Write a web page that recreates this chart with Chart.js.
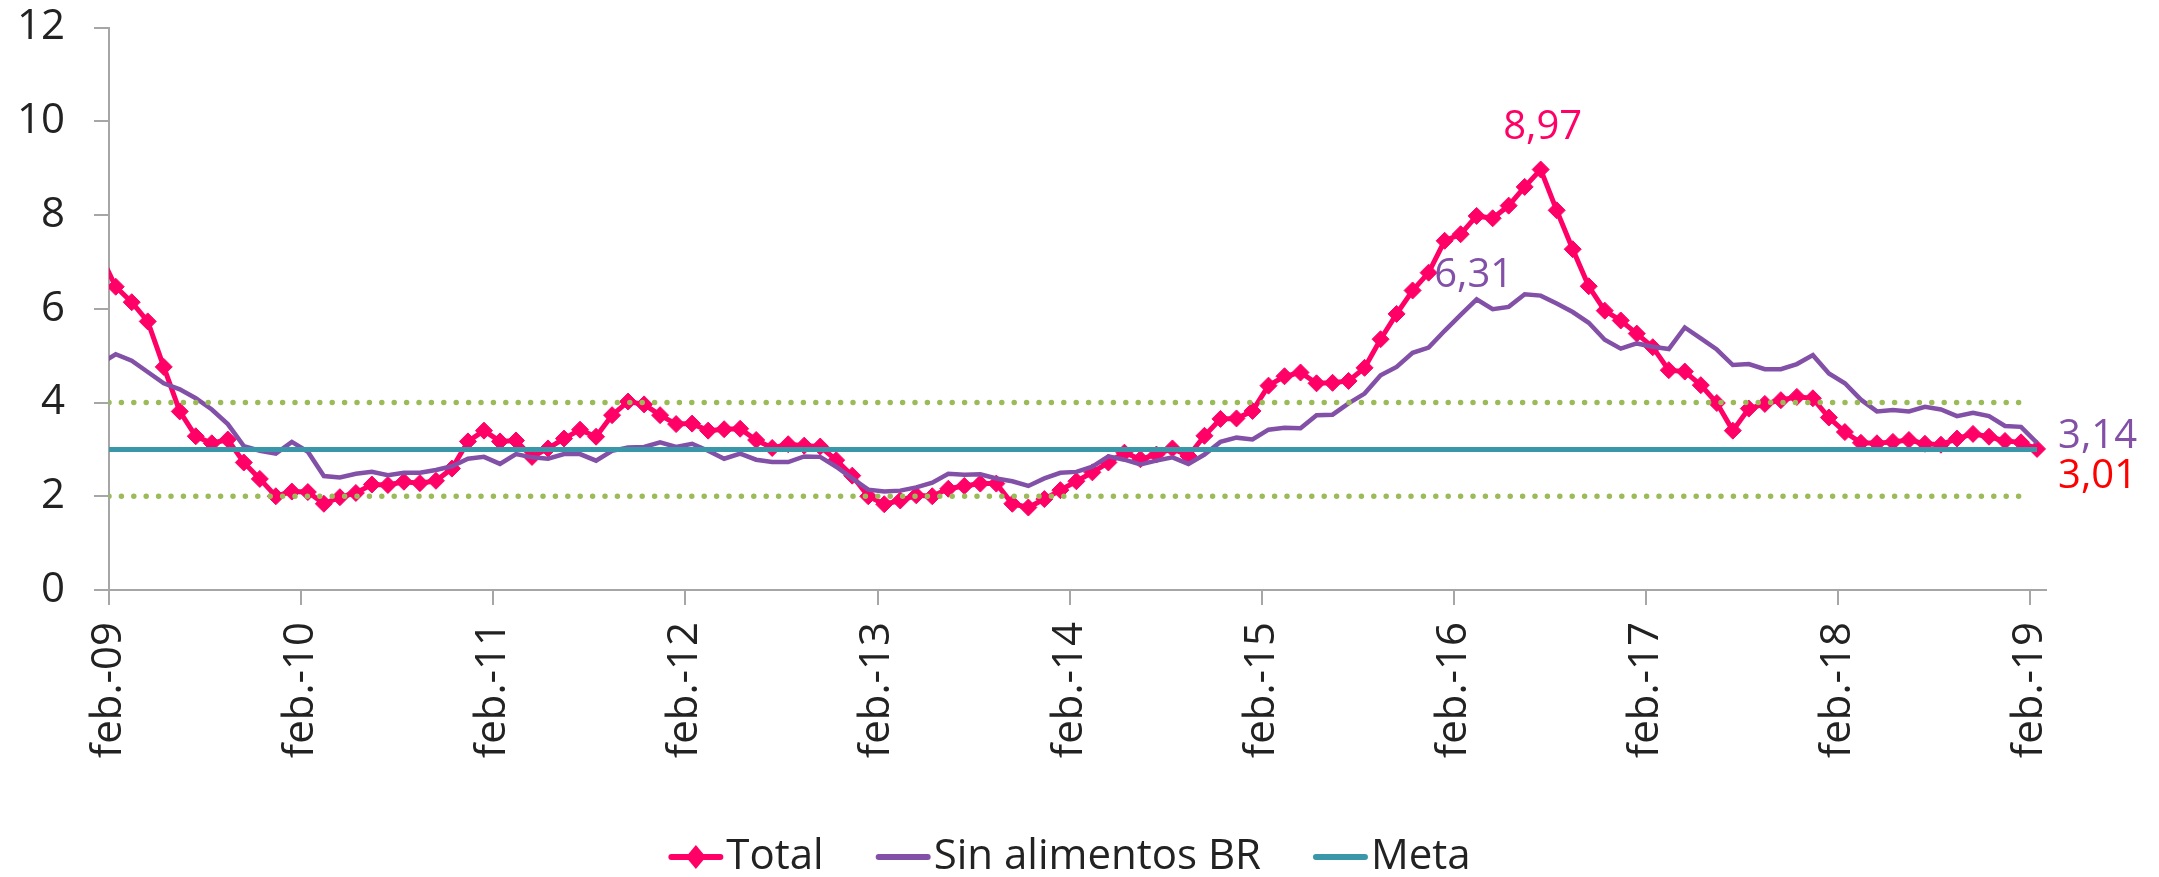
<!DOCTYPE html>
<html>
<head>
<meta charset="utf-8">
<script src="https://cdn.jsdelivr.net/npm/chart.js@4.4.1/dist/chart.umd.min.js"></script>
<style>
html,body{margin:0;padding:0;background:#fff;}
#c{display:block;}
</style>
</head>
<body>
<canvas id="c" width="2159" height="877"></canvas>
<script>
// ---- data (monthly, ene-09 .. feb-19) ----
const tickLabels = ["feb.-09","feb.-10","feb.-11","feb.-12","feb.-13","feb.-14","feb.-15","feb.-16","feb.-17","feb.-18","feb.-19"];
const seriesNames = ["Total", "Sin alimentos BR", "Meta"];

const total = [7.18,
  6.47, 6.14, 5.73, 4.76, 3.81, 3.28, 3.13, 3.21, 2.72, 2.37, 2.00,
  2.10, 2.09, 1.84, 1.98, 2.07, 2.25, 2.24, 2.31, 2.28, 2.33, 2.59, 3.17,
  3.40, 3.17, 3.19, 2.84, 3.02, 3.23, 3.42, 3.27, 3.73, 4.02, 3.96, 3.73,
  3.54, 3.55, 3.40, 3.43, 3.44, 3.20, 3.03, 3.11, 3.08, 3.06, 2.77, 2.44,
  2.00, 1.83, 1.91, 2.02, 2.00, 2.16, 2.22, 2.27, 2.27, 1.84, 1.76, 1.94,
  2.13, 2.32, 2.51, 2.72, 2.93, 2.79, 2.89, 3.02, 2.86, 3.29, 3.65, 3.66,
  3.82, 4.36, 4.56, 4.64, 4.41, 4.42, 4.46, 4.74, 5.35, 5.89, 6.39, 6.77,
  7.45, 7.59, 7.98, 7.93, 8.20, 8.60, 8.97, 8.10, 7.27, 6.48, 5.96, 5.75,
  5.47, 5.18, 4.69, 4.66, 4.37, 3.99, 3.40, 3.87, 3.97, 4.05, 4.12, 4.09,
  3.68, 3.37, 3.14, 3.13, 3.16, 3.20, 3.12, 3.10, 3.23, 3.33, 3.27, 3.18,
  3.15, 3.01];

const sinAlimentos = [4.82,
  5.03, 4.89, 4.65, 4.41, 4.28, 4.09, 3.85, 3.54, 3.07, 2.97, 2.91,
  3.16, 2.95, 2.43, 2.40, 2.48, 2.52, 2.45, 2.50, 2.50, 2.56, 2.64, 2.80,
  2.84, 2.69, 2.90, 2.83, 2.80, 2.90, 2.90, 2.76, 2.97, 3.04, 3.05, 3.15,
  3.05, 3.12, 2.97, 2.80, 2.91, 2.78, 2.73, 2.73, 2.85, 2.84, 2.63, 2.38,
  2.14, 2.10, 2.12, 2.19, 2.29, 2.48, 2.46, 2.47, 2.38, 2.32, 2.22, 2.38,
  2.50, 2.52, 2.63, 2.85, 2.78, 2.68, 2.76, 2.83, 2.69, 2.89, 3.16, 3.25,
  3.21, 3.42, 3.46, 3.45, 3.73, 3.74, 3.98, 4.19, 4.58, 4.76, 5.06, 5.17,
  5.53, 5.87, 6.20, 5.99, 6.04, 6.31, 6.28, 6.11, 5.93, 5.70, 5.34, 5.15,
  5.26, 5.19, 5.14, 5.60, 5.37, 5.13, 4.80, 4.82, 4.71, 4.71, 4.82, 5.01,
  4.62, 4.41, 4.06, 3.81, 3.84, 3.81, 3.91, 3.85, 3.71, 3.78, 3.71, 3.50,
  3.48, 3.14];

const meta = [3,
  3,3,3,3,3,3,3,3,3,3,3,
  3,3,3,3,3,3,3,3,3,3,3,3,
  3,3,3,3,3,3,3,3,3,3,3,3,
  3,3,3,3,3,3,3,3,3,3,3,3,
  3,3,3,3,3,3,3,3,3,3,3,3,
  3,3,3,3,3,3,3,3,3,3,3,3,
  3,3,3,3,3,3,3,3,3,3,3,3,
  3,3,3,3,3,3,3,3,3,3,3,3,
  3,3,3,3,3,3,3,3,3,3,3,3,
  3,3,3,3,3,3,3,3,3,3,3,3,
  3,3];

const rangoSuperior = [4, 4];
const rangoInferior = [2, 2];

// ---- styling / geometry ----
const PINK = '#FF0066', PURPLE = '#8350A8', TEAL = '#3A97A9', GREEN = '#9BBB59', RED = '#FF0000', TXT = '#222222', AXIS = '#A6A6A6';
const FIRST_INDEX = -1;          // first value is one month before feb-09
const AXIS_MIN = -0.42, AXIS_MAX = 120.56;
const tickPositions = tickLabels.map((_, k) => AXIS_MIN + 12 * k);

const toXY = (arr) => arr.map((v, k) => ({x: k + FIRST_INDEX, y: v}));
const bandXY = (arr) => [{x: tickPositions[0], y: arr[0]}, {x: tickPositions[tickPositions.length - 1], y: arr[1]}];
const leftClip = {left: 0, top: false, right: false, bottom: false};
const fmt = (v) => v.toFixed(2).replace('.', ',');

const valueLabels = {
  id: 'valueLabels',
  afterDatasetsDraw(chart) {
    const ctx = chart.ctx;
    const mT = chart.getDatasetMeta(0), mS = chart.getDatasetMeta(1);
    const put = (text, x, y, color, align) => {
      ctx.save();
      ctx.font = '40px "Open Sans"';
      ctx.fillStyle = color;
      ctx.textAlign = align;
      ctx.textBaseline = 'middle';
      ctx.fillText(text, x, y);
      ctx.restore();
    };
    const iT = total.indexOf(Math.max(...total));
    const pT = mT.data[iT];
    put(fmt(total[iT]), pT.x + 2, pT.y - 42, PINK, 'center');
    const iS = sinAlimentos.indexOf(Math.max(...sinAlimentos));
    const pS = mS.data[iS];
    put(fmt(sinAlimentos[iS]), pS.x - 51, pS.y - 19, PURPLE, 'center');
    const lS = mS.data[sinAlimentos.length - 1];
    put(fmt(sinAlimentos[sinAlimentos.length - 1]), lS.x + 21, lS.y - 6, PURPLE, 'left');
    const lT = mT.data[total.length - 1];
    put(fmt(total[total.length - 1]), lT.x + 21, lT.y + 28, RED, 'left');
  }
};

const customLegend = {
  id: 'customLegend',
  afterDraw(chart) {
    const ctx = chart.ctx;
    const items = [
      {label: seriesNames[0], color: PINK, marker: true},
      {label: seriesNames[1], color: PURPLE, marker: false},
      {label: seriesNames[2], color: TEAL, marker: false}
    ];
    ctx.save();
    ctx.font = '42px "Open Sans"';
    const lineLen = 55, textGap = 3, itemGap = 52;
    const widths = items.map(it => lineLen + textGap + ctx.measureText(it.label).width);
    const totalW = widths.reduce((a, b) => a + b, 0) + itemGap * (items.length - 1);
    let x = (chart.chartArea.left + chart.chartArea.right) / 2 - 8 - totalW / 2;
    const y = 857;
    items.forEach((it, k) => {
      ctx.strokeStyle = it.color;
      ctx.lineWidth = 6;
      ctx.lineCap = 'round';
      ctx.beginPath();
      ctx.moveTo(x + 3, y);
      ctx.lineTo(x + lineLen - 3, y);
      ctx.stroke();
      if (it.marker) {
        const cx = x + lineLen / 2;
        ctx.fillStyle = it.color;
        ctx.beginPath();
        ctx.moveTo(cx, y - 12);
        ctx.lineTo(cx + 10, y);
        ctx.lineTo(cx, y + 12);
        ctx.lineTo(cx - 10, y);
        ctx.closePath();
        ctx.fill();
      }
      ctx.fillStyle = TXT;
      ctx.textAlign = 'left';
      ctx.textBaseline = 'middle';
      ctx.fillText(it.label, x + lineLen + textGap, y);
      x += widths[k] + itemGap;
    });
    ctx.restore();
  }
};

new Chart(document.getElementById('c'), {
  type: 'line',
  data: {
    datasets: [
      {label: seriesNames[0], data: toXY(total), borderColor: PINK, backgroundColor: PINK, borderWidth: 5,
       pointStyle: 'rectRot', pointRadius: 8.5, pointBorderWidth: 1, pointBackgroundColor: PINK, pointBorderColor: PINK,
       tension: 0, clip: leftClip, order: 5},
      {label: seriesNames[1], data: toXY(sinAlimentos), borderColor: PURPLE, backgroundColor: PURPLE, borderWidth: 4.5,
       pointRadius: 0, tension: 0, clip: leftClip, order: 4},
      {label: seriesNames[2], data: toXY(meta), borderColor: TEAL, backgroundColor: TEAL, borderWidth: 5,
       pointRadius: 0, tension: 0, clip: leftClip, order: 3},
      {label: 'rango superior', data: bandXY(rangoSuperior), borderColor: GREEN, borderWidth: 5.5,
       borderDash: [0, 12.4], borderCapStyle: 'round', pointRadius: 0, order: 1},
      {label: 'rango inferior', data: bandXY(rangoInferior), borderColor: GREEN, borderWidth: 5.5,
       borderDash: [0, 12.4], borderCapStyle: 'round', pointRadius: 0, order: 2}
    ]
  },
  options: {
    responsive: false,
    animation: false,
    devicePixelRatio: 1,
    layout: {padding: {top: 0, left: 0, right: 0, bottom: 0}},
    plugins: {legend: {display: false}, tooltip: {enabled: false}},
    scales: {
      x: {
        type: 'linear',
        min: AXIS_MIN,
        max: AXIS_MAX,
        afterBuildTicks: (scale) => { scale.ticks = tickPositions.map(v => ({value: v})); },
        afterFit: (scale) => { scale.height = 287; },
        ticks: {
          autoSkip: false,
          minRotation: 90,
          maxRotation: 90,
          padding: 17,
          color: TXT,
          font: {family: '"Open Sans"', size: 42},
          callback: (value, index) => tickLabels[index]
        },
        grid: {display: true, drawOnChartArea: false, drawTicks: true, tickLength: 15, color: AXIS, lineWidth: 2},
        border: {display: true, color: AXIS, width: 2}
      },
      y: {
        type: 'linear',
        position: 'left',
        min: 0,
        max: 12,
        afterFit: (scale) => { scale.width = 109; scale.paddingTop = 27.5; scale.paddingBottom = 0; },
        ticks: {stepSize: 2, padding: 29, color: TXT, font: {family: '"Open Sans"', size: 42}},
        grid: {display: true, drawOnChartArea: false, drawTicks: true, tickLength: 15, color: AXIS, lineWidth: 2},
        border: {display: true, color: AXIS, width: 2}
      },
      yR: {
        type: 'linear',
        position: 'right',
        display: true,
        afterFit: (scale) => { scale.width = 113; scale.paddingTop = 0; scale.paddingBottom = 0; },
        ticks: {display: false},
        grid: {display: false, drawTicks: false},
        border: {display: false}
      }
    }
  },
  plugins: [valueLabels, customLegend]
});
</script>
</body>
</html>
